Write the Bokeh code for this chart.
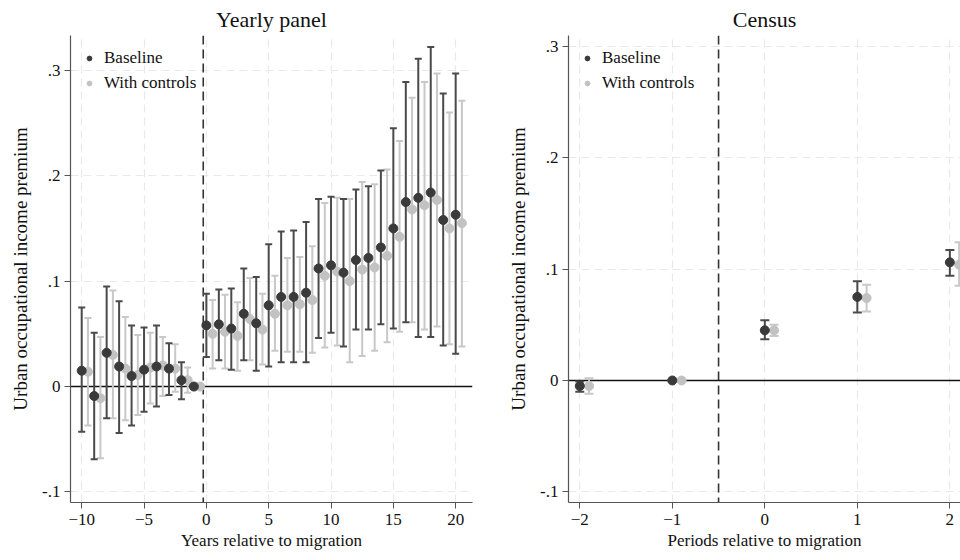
from bokeh.plotting import figure
from bokeh.layouts import row
from bokeh.models import ColumnDataSource, Span, Legend, LegendItem, FixedTicker, Range1d
from bokeh.embed import file_html
from bokeh.resources import INLINE

# ---------------- data: yearly panel ----------------
yr_x = [-10, -9, -8, -7, -6, -5, -4, -3, -2, -1, 0, 1, 2, 3, 4, 5, 6, 7, 8, 9, 10,
        11, 12, 13, 14, 15, 16, 17, 18, 19, 20]
yr_base = [0.015, -0.009, 0.032, 0.019, 0.010, 0.016, 0.019, 0.017, 0.006, 0.0, 0.058, 0.059,
           0.055, 0.069, 0.060, 0.077, 0.085, 0.085, 0.089, 0.112, 0.115, 0.108, 0.120,
           0.122, 0.132, 0.150, 0.175, 0.179, 0.184, 0.158, 0.163]
yr_base_hi = [0.075, 0.051, 0.095, 0.081, 0.058, 0.056, 0.058, 0.041, 0.023, 0.0, 0.088, 0.092,
              0.093, 0.112, 0.104, 0.135, 0.147, 0.148, 0.156, 0.178, 0.180, 0.178, 0.187,
              0.190, 0.205, 0.245, 0.289, 0.311, 0.322, 0.278, 0.297]
yr_base_lo = [-0.043, -0.069, -0.030, -0.044, -0.037, -0.024, -0.019, -0.008, -0.012, 0.0, 0.028,
              0.025, 0.016, 0.025, 0.015, 0.019, 0.023, 0.023, 0.023, 0.046, 0.051, 0.038,
              0.054, 0.054, 0.059, 0.055, 0.061, 0.047, 0.047, 0.039, 0.031]
yr_ctrl = [0.014, -0.011, 0.030, 0.017, 0.011, 0.018, 0.020, 0.017, 0.006, 0.0, 0.050, 0.052,
           0.048, 0.064, 0.054, 0.069, 0.077, 0.078, 0.082, 0.105, 0.109, 0.100, 0.111,
           0.113, 0.124, 0.142, 0.168, 0.172, 0.177, 0.150, 0.155]
yr_ctrl_hi = [0.065, 0.047, 0.091, 0.066, 0.049, 0.051, 0.047, 0.040, 0.018, 0.0, 0.082, 0.087,
              0.080, 0.103, 0.088, 0.105, 0.122, 0.123, 0.133, 0.174, 0.179, 0.178, 0.194,
              0.192, 0.206, 0.233, 0.274, 0.289, 0.297, 0.260, 0.271]
yr_ctrl_lo = [-0.037, -0.068, -0.030, -0.032, -0.027, -0.016, -0.009, -0.005, -0.006, 0.0, 0.017,
              0.017, 0.015, 0.025, 0.021, 0.034, 0.033, 0.033, 0.032, 0.037, 0.039, 0.023,
              0.029, 0.034, 0.042, 0.052, 0.061, 0.054, 0.057, 0.040, 0.038]

# ---------------- data: census ----------------
cen_x = [-2, -1, 0, 1, 2]
cen_base = [-0.005, 0.0, 0.045, 0.075, 0.106]
cen_base_hi = [-0.001, 0.0, 0.054, 0.089, 0.117]
cen_base_lo = [-0.010, 0.0, 0.037, 0.061, 0.094]
cen_ctrl = [-0.005, 0.0, 0.045, 0.074, 0.104]
cen_ctrl_hi = [0.002, 0.0, 0.050, 0.086, 0.124]
cen_ctrl_lo = [-0.012, 0.0, 0.040, 0.062, 0.085]

y_ticks = [-0.1, 0.0, 0.1, 0.2, 0.3]
y_tick_labels = ["-.1", "0", ".1", ".2", ".3"]
yr_xticks = [-10, -5, 0, 5, 10, 15, 20]
cen_xticks = [-2, -1, 0, 1, 2]

SERIF = "Liberation Serif"
C_BASE = "#3a3a3a"
C_BASE_BAR = "#4a4a4a"
C_CTRL = "#c2c2c2"
C_CTRL_BAR = "#c8c8c8"


def make_panel(title, xs, base, bhi, blo, ctrl, chi, clo, offset, xr, yr, xticks, xlabel,
               vline, frame_w, border_l, border_r, cap, lw):
    p = figure(title=title, frame_width=frame_w, frame_height=467,
               min_border_left=border_l, min_border_right=border_r,
               min_border_top=35, min_border_bottom=58,
               x_range=Range1d(*xr), y_range=Range1d(*yr),
               output_backend="svg", toolbar_location=None)
    p.title.align = "center"
    p.title.text_font = SERIF
    p.title.text_font_size = "22px"
    p.title.text_font_style = "normal"
    p.title.text_color = "#111111"
    p.title.standoff = 8
    p.outline_line_color = None
    p.background_fill_color = "white"
    p.border_fill_color = "white"

    for ax in (p.xaxis[0], p.yaxis[0]):
        ax.axis_line_color = "#555555"
        ax.axis_line_width = 1.2
        ax.major_tick_line_color = "#555555"
        ax.major_tick_out = 6
        ax.major_tick_in = 0
        ax.minor_tick_line_color = None
        ax.major_label_text_font = SERIF
        ax.major_label_text_font_size = "17px"
        ax.major_label_text_color = "#111111"
        ax.axis_label_text_font = SERIF
        ax.axis_label_text_font_style = "normal"
        ax.axis_label_text_color = "#111111"
    p.xaxis.axis_label_text_font_size = "17px"
    p.yaxis.axis_label_text_font_size = "19px"
    p.xaxis.ticker = FixedTicker(ticks=xticks)
    p.yaxis.ticker = FixedTicker(ticks=y_ticks)
    p.yaxis.major_label_overrides = {t: l for t, l in zip(y_ticks, y_tick_labels)}
    p.yaxis.major_label_orientation = 0
    p.xaxis.axis_label = xlabel
    p.yaxis.axis_label = "Urban occupational income premium"
    p.xaxis.major_label_standoff = 5
    p.yaxis.major_label_standoff = 4
    p.xaxis.axis_label_standoff = 3
    p.yaxis.axis_label_standoff = 8

    for g in (p.xgrid[0], p.ygrid[0]):
        g.grid_line_color = "#e9e9e9"
        g.grid_line_dash = "8 5"
        g.grid_line_width = 1.2

    p.add_layout(Span(location=vline, dimension="height", line_color="#333333",
                      line_dash="9 5", line_width=1.6, level="underlay"))
    p.add_layout(Span(location=0, dimension="width", line_color="#111111",
                      line_width=1.5, level="underlay"))

    xc = [x + offset for x in xs]
    sb = ColumnDataSource(dict(x=xs, y=base, hi=bhi, lo=blo))
    sc = ColumnDataSource(dict(x=xc, y=ctrl, hi=chi, lo=clo))

    for src, col in ((sc, C_CTRL_BAR), (sb, C_BASE_BAR)):
        p.segment(x0="x", y0="lo", x1="x", y1="hi", source=src, line_color=col, line_width=lw)
        p.scatter(x="x", y="hi", source=src, marker="dash", size=cap, line_color=col, line_width=lw)
        p.scatter(x="x", y="lo", source=src, marker="dash", size=cap, line_color=col, line_width=lw)

    rc = p.scatter(x="x", y="y", source=sc, size=9, fill_color=C_CTRL, line_color=C_CTRL)
    rb = p.scatter(x="x", y="y", source=sb, size=9, fill_color=C_BASE, line_color=C_BASE)

    leg = Legend(items=[LegendItem(label="Baseline", renderers=[rb]),
                        LegendItem(label="With controls", renderers=[rc])],
                 location="top_left")
    leg.label_text_font = SERIF
    leg.label_text_font_size = "17px"
    leg.label_text_color = "#111111"
    leg.background_fill_alpha = 0
    leg.border_line_alpha = 0
    leg.margin = 4
    leg.padding = 9
    leg.spacing = 5
    leg.glyph_width = 12
    leg.label_standoff = 9
    p.add_layout(leg)
    return p


p1 = make_panel("Yearly panel", yr_x, yr_base, yr_base_hi, yr_base_lo,
                yr_ctrl, yr_ctrl_hi, yr_ctrl_lo, 0.5, (-10.9, 21.35), (-0.11, 0.333),
                yr_xticks, "Years relative to migration", -0.25, 402, 70, 8, 7, 2)
p2 = make_panel("Census", cen_x, cen_base, cen_base_hi, cen_base_lo,
                cen_ctrl, cen_ctrl_hi, cen_ctrl_lo, 0.1, (-2.122, 2.115), (-0.1095, 0.3096),
                cen_xticks, "Periods relative to migration", -0.5, 392, 88, 0, 9, 2)

layout = row(p1, p2)
open("out.html", "w").write(file_html(layout, INLINE))
